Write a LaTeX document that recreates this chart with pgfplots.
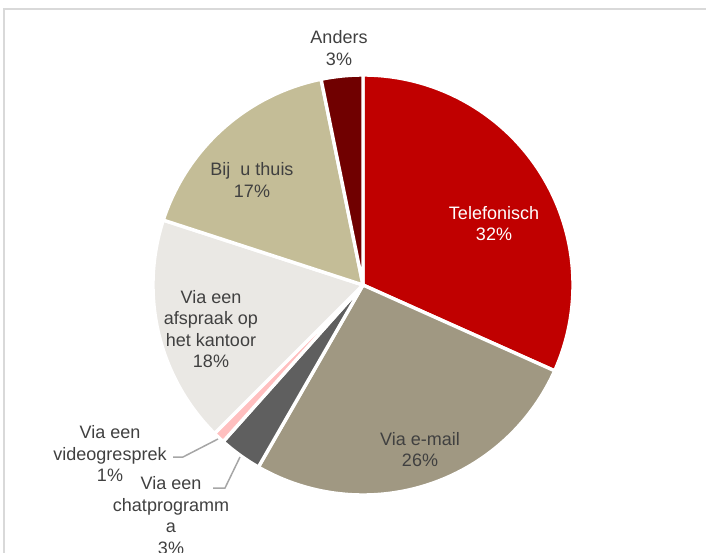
\documentclass[border=0pt]{standalone}
\usepackage{fontspec}
\setmainfont{Liberation Sans}
\usepackage{pgfplots}
\pgfplotsset{compat=1.18}
\usepackage{pgfplotstable}
\definecolor{ctel}{HTML}{C00000}
\definecolor{cmail}{HTML}{A09882}
\definecolor{cchat}{HTML}{5F5F5F}
\definecolor{cvideo}{HTML}{FFBFBF}
\definecolor{cafspraak}{HTML}{EAE8E4}
\definecolor{cthuis}{HTML}{C4BD97}
\definecolor{canders}{HTML}{700000}
\definecolor{ctxt}{HTML}{404040}
\definecolor{cframe}{HTML}{D9D9D9}
\definecolor{cleader}{HTML}{A6A6A6}

% share (percent), clockwise from 12 o'clock
\pgfplotstableread{
name value colour
Telefonisch 31.7 ctel
E-mail 26.6 cmail
Chat 3.3 cchat
Video 0.9 cvideo
Afspraak 17.5 cafspraak
Thuis 16.8 cthuis
Anders 3.2 canders
}\piedata

\tikzset{lbl/.style={font=\fontsize{9}{10.75}\selectfont, text=ctxt, align=center, inner sep=0pt, anchor=center}}

\begin{document}
\begin{tikzpicture}
\begin{axis}[
  scale only axis, width=353pt, height=276pt,
  xmin=0, xmax=706, ymin=0, ymax=552,
  hide axis, clip=false,
  anchor=south west, at={(0,0)},
]
\pgfplotsextra{%
  \def\startang{90}%
  \pgfplotsforeachungrouped \i in {0,...,6}{%
    \pgfplotstablegetelem{\i}{value}\of\piedata \let\val\pgfplotsretval
    \pgfplotstablegetelem{\i}{colour}\of\piedata \let\col\pgfplotsretval
    \pgfmathsetmacro\endang{\startang-3.6*\val}%
    \fill[fill=\col, draw=white, line width=1.7pt, line join=round]
      (axis cs:363,267) -- ++(\startang:105pt)
      arc[start angle=\startang, end angle=\endang, radius=105pt] -- cycle;
    \let\startang\endang
  }%
}
% frame
\draw[cframe, line width=0.8pt] (axis cs:4,-20) -- (axis cs:4,543) -- (axis cs:740,543);
% leader lines
\draw[cleader, line width=0.75pt] (axis cs:240,95) -- (axis cs:225,64) -- (axis cs:213,64);
\draw[cleader, line width=0.75pt] (axis cs:218,113) -- (axis cs:183,95) -- (axis cs:173,95);
% labels
\node[lbl] at (axis cs:339,504) {Anders\\3\%};
\node[lbl, text=white] at (axis cs:494,328.5) {Telefonisch\\32\%};
\node[lbl] at (axis cs:420,102.5) {Via e-mail\\26\%};
\node[lbl] at (axis cs:171,36.25) {Via een\\chatprogramm\\a\\3\%};
\node[lbl] at (axis cs:110,98.3) {Via een\\videogresprek\\1\%};
\node[lbl] at (axis cs:211,223) {Via een\\afspraak op\\het kantoor\\18\%};
\node[lbl] at (axis cs:252,372) {Bij\ \ u thuis\\17\%};
\end{axis}
\pgfresetboundingbox
\useasboundingbox (0,0) rectangle (353pt,276pt);
\end{tikzpicture}
\end{document}
